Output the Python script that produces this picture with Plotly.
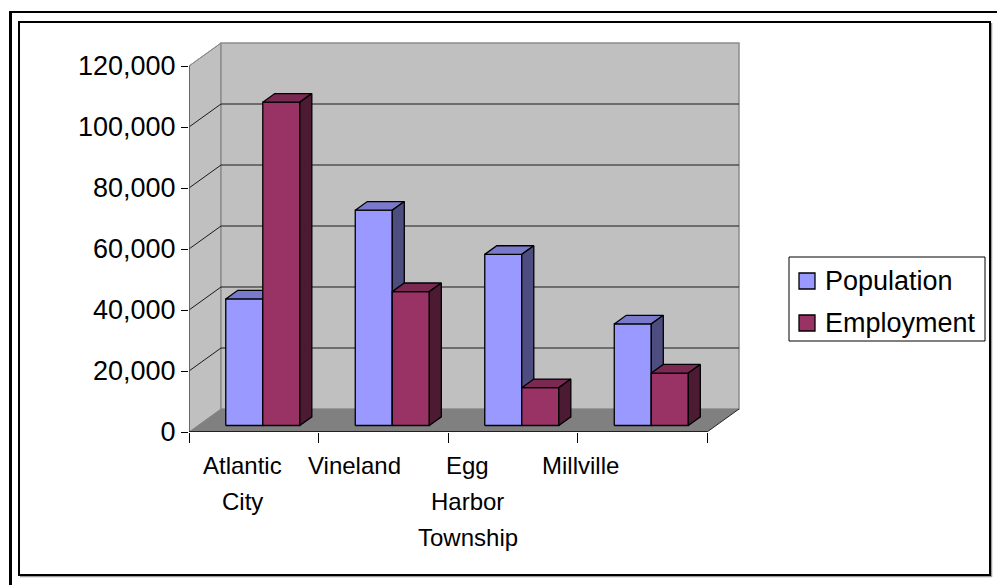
import plotly.graph_objects as go

# ---------------- data ----------------
categories = ["Atlantic City", "Vineland", "Egg Harbor Township", "Millville"]
label_lines = [["Atlantic", "City"], ["Vineland"], ["Egg", "Harbor", "Township"], ["Millville"]]
series_names = ["Population", "Employment"]
population = [41500, 70600, 56100, 33300]
employment = [106000, 43900, 12400, 17200]
y_ticks = [0, 20000, 40000, 60000, 80000, 100000, 120000]

# ---------------- layout constants (pixels) ----------------
W, H = 997, 585
L_PX, R_PX, T_PX, B_PX = 189, 760, 30, 432
PLOT_W, PLOT_H = R_PX - L_PX, B_PX - T_PX
CAT_PX = 129.5                 # pixels per category on front plane
VAL_PX = 366 / 120000          # pixels per value unit
DX = 32 / CAT_PX               # depth offset in category units
DV = 23 / VAL_PX               # depth offset in value units
F0 = 6.5 / 23                  # bar front plane (fraction of depth)
F1 = F0 + 12 / 32              # bar back plane
GAP = 0.214
BW = (1 - 2 * GAP) / 2
NC = len(categories)
VMAX = y_ticks[-1]

FONT = "Liberation Sans, Arial, sans-serif"
front_colors = ["#9999FF", "#993366"]
top_colors = ["#7A7ACC", "#7A2952"]
side_colors = ["#4D4D80", "#4D1A33"]


def px2paper(x, y):
    return (x - L_PX) / PLOT_W, (B_PX - y) / PLOT_H


fig = go.Figure()

# ---------------- bars (pseudo-3D) ----------------
for s, values in enumerate([population, employment]):
    fx, fy, tx, ty, sx, sy = [], [], [], [], [], []
    for i, v in enumerate(values):
        a = i + GAP + s * BW
        b = a + BW
        o0x, o0y = F0 * DX, F0 * DV
        o1x, o1y = F1 * DX, F1 * DV
        fx += [a + o0x, b + o0x, b + o0x, a + o0x, a + o0x, None]
        fy += [o0y, o0y, v + o0y, v + o0y, o0y, None]
        tx += [a + o0x, b + o0x, b + o1x, a + o1x, a + o0x, None]
        ty += [v + o0y, v + o0y, v + o1y, v + o1y, v + o0y, None]
        sx += [b + o0x, b + o1x, b + o1x, b + o0x, b + o0x, None]
        sy += [o0y, o1y, v + o1y, v + o0y, o0y, None]
    for xs, ys, col in [(fx, fy, front_colors[s]), (tx, ty, top_colors[s]), (sx, sy, side_colors[s])]:
        fig.add_trace(go.Scatter(
            x=xs, y=ys, mode="lines", fill="toself", fillcolor=col,
            line=dict(color="black", width=1.3), hoverinfo="skip",
            showlegend=False, name=series_names[s]))

shapes = []
# left side wall
shapes.append(dict(type="path", xref="x", yref="y", layer="below",
                   path=f"M 0 0 L 0 {VMAX} L {DX} {VMAX + DV} L {DX} {DV} Z",
                   fillcolor="#C0C0C0", line=dict(color="#808080", width=1)))
# back wall
shapes.append(dict(type="rect", xref="x", yref="y", layer="below",
                   x0=DX, x1=DX + NC, y0=DV, y1=VMAX + DV,
                   fillcolor="#C0C0C0", line=dict(color="#8C8C8C", width=1.5)))
# gridlines on back wall and left wall
for t in y_ticks[1:-1]:
    shapes.append(dict(type="line", xref="x", yref="y", layer="below",
                       x0=DX, x1=DX + NC, y0=t + DV, y1=t + DV,
                       line=dict(color="#1a1a1a", width=1)))
for t in y_ticks[1:]:
    shapes.append(dict(type="line", xref="x", yref="y", layer="below",
                       x0=0, x1=DX, y0=t, y1=t + DV,
                       line=dict(color="#1a1a1a" if t < VMAX else "#8C8C8C", width=1)))
# floor
shapes.append(dict(type="path", xref="x", yref="y", layer="below",
                   path=f"M 0 0 L {NC} 0 L {NC + DX} {DV} L {DX} {DV} Z",
                   fillcolor="#808080", line=dict(color="#808080", width=0)))
shapes.append(dict(type="line", xref="x", yref="y", layer="below",
                   x0=NC, x1=NC + DX, y0=0, y1=DV, line=dict(color="#222222", width=1)))
# front axes lines
shapes.append(dict(type="line", xref="x", yref="y", layer="below",
                   x0=0, x1=0, y0=0, y1=VMAX, line=dict(color="#555555", width=1.5)))
shapes.append(dict(type="line", xref="x", yref="y", layer="above",
                   x0=0, x1=NC, y0=0, y1=0, line=dict(color="black", width=1.5)))

# ---------------- legend (drawn) ----------------
lx0, ly0 = px2paper(789, 257)
lx1, ly1 = px2paper(985, 341)
shapes.append(dict(type="rect", xref="paper", yref="paper", x0=lx0, x1=lx1, y0=ly0, y1=ly1,
                   line=dict(color="black", width=1), fillcolor="white"))
annotations = []
legend_rows_px = [281, 323]
for s, name in enumerate(series_names):
    cy = legend_rows_px[s]
    sx0, sy0 = px2paper(799, cy - 8)
    sx1, sy1 = px2paper(815, cy + 8)
    shapes.append(dict(type="rect", xref="paper", yref="paper", x0=sx0, x1=sx1, y0=sy0, y1=sy1,
                       fillcolor=front_colors[s], line=dict(color="black", width=1.3)))
    ax, ay = px2paper(823, cy)
    annotations.append(dict(text=name, xref="paper", yref="paper", x=ax, y=ay,
                            xanchor="left", yanchor="middle", showarrow=False,
                            font=dict(family=FONT, size=27, color="black")))

# ---------------- category labels ----------------
label_x_px = [242, 354, 467.5, 580]
for i, lines in enumerate(label_lines):
    xp, _ = px2paper(label_x_px[i], 0)
    for k, line in enumerate(lines):
        annotations.append(dict(text=line, xref="paper", yref="paper", x=xp, y=0,
                                xanchor="center", yanchor="top", yshift=-(17.5 + 36 * k),
                                showarrow=False,
                                font=dict(family=FONT, size=24, color="black")))

# ---------------- frames ----------------
def prect(x0, y0, x1, y1, **kw):
    a0, b0 = px2paper(x0, y0)
    a1, b1 = px2paper(x1, y1)
    return dict(xref="paper", yref="paper", x0=a0, y0=b0, x1=a1, y1=b1, **kw)

shapes.append(dict(type="line", **prect(20, 576.5, 991, 576.5), line=dict(color="#9a9a9a", width=1.5)))
shapes.append(dict(type="line", **prect(991.5, 23, 991.5, 577), line=dict(color="#9a9a9a", width=1.5)))
shapes.append(dict(type="rect", **prect(19, 22, 990, 575), line=dict(color="black", width=2)))
shapes.append(dict(type="line", **prect(9, 12, 997, 12), line=dict(color="black", width=2)))
shapes.append(dict(type="line", **prect(10.5, 11, 10.5, 585), line=dict(color="black", width=3)))

fig.update_layout(
    width=W, height=H, autosize=False,
    margin=dict(l=L_PX, r=W - R_PX, t=T_PX, b=H - B_PX, pad=0),
    paper_bgcolor="white", plot_bgcolor="rgba(0,0,0,0)",
    showlegend=False,
    shapes=shapes, annotations=annotations,
    xaxis=dict(range=[0, PLOT_W / CAT_PX], tickmode="array", tickvals=list(range(NC + 1)),
               showticklabels=False, ticks="outside", ticklen=10, tickcolor="black", tickwidth=1,
               showgrid=False, zeroline=False, showline=False, fixedrange=True),
    yaxis=dict(range=[0, PLOT_H / VAL_PX], tickmode="array", tickvals=y_ticks,
               ticktext=[f"{v:,}" for v in y_ticks],
               ticks="outside", ticklen=7, tickcolor="black", tickwidth=1,
               tickfont=dict(family=FONT, size=27, color="black"),
               showgrid=False, zeroline=False, showline=False, fixedrange=True),
)

fig.write_html("out.html")
